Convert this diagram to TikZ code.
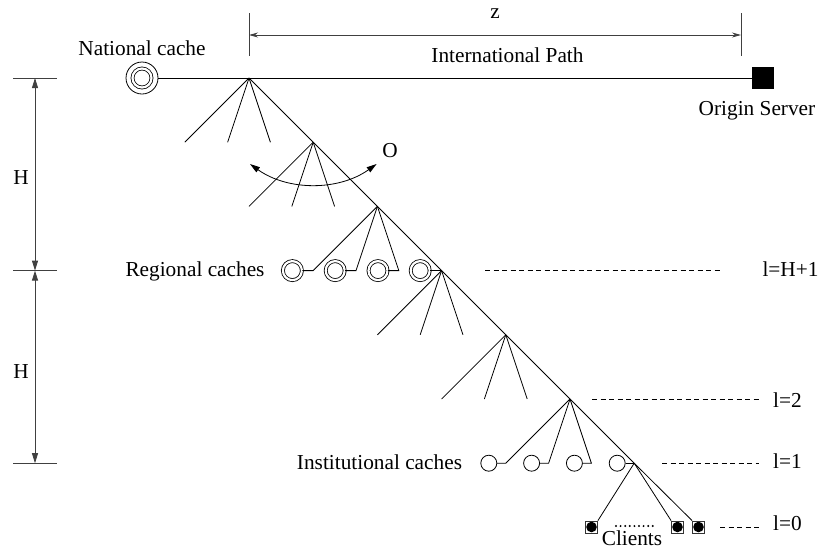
\documentclass[tikz,border=0pt]{standalone}
\usepackage{fontspec}
\setmainfont{Liberation Serif}
\usetikzlibrary{arrows.meta}
\begin{document}
\begin{tikzpicture}[x=1pt,y=-1pt,line width=0.8pt,
  lbl/.style={anchor=base,inner sep=0pt,font=\fontsize{21.3}{25}\selectfont},
  dimline/.style={draw=black!75,line width=0.8pt},
  dimarrow/.style={dimline,{Triangle[length=10pt,width=6pt]}-{Triangle[length=10pt,width=6pt]}},
  zarrow/.style={dimline,{Stealth[length=9pt,width=5pt]}-{Stealth[length=9pt,width=5pt]}},
  dashline/.style={draw,line width=0.7pt,dash pattern=on 5pt off 3.5pt},
  regcache/.style={circle,draw,double,double distance=2.2pt,line width=0.8pt,inner sep=0pt,minimum size=19pt},
  natouter/.style={circle,draw,inner sep=0pt,minimum size=32pt},
  instcache/.style={circle,draw,inner sep=0pt,minimum size=16pt},
  server/.style={rectangle,fill=black,inner sep=0pt,minimum size=22pt},
  client/.style={rectangle,draw=black!80,fill=white,line width=0.8pt,inner sep=0pt,minimum size=12pt,
    path picture={\fill[black] (path picture bounding box.center) circle[radius=5.3pt];}}
]
\useasboundingbox (0,0) rectangle (819,550);

% national cache and origin server
\node[natouter] (nat) at (142,78) {};
\node[regcache] (natin) at (142,78) {};
\node[server] (orig) at (763,78) {};
\draw (nat) -- (orig);

\node[lbl] (natlbl) at (142,55) {National cache};
\node[lbl] (origlbl) at (757,115) {Origin Server};

% z dimension
\coordinate (zt1) at (249,13);
\coordinate (zb1) at (249,56);
\coordinate (zt2) at (741,13);
\coordinate (zb2) at (741,56);
\draw[dimline] (zt1) -- (zb1);
\draw[dimline] (zt2) -- (zb2);
\coordinate (za1) at (249,35);
\coordinate (za2) at (741,35);
\draw[zarrow] (za1) -- (za2);
\node[lbl] (zlbl) at (495,18) {z};
\node[lbl] (iplbl) at (507.5,62) {International Path};

% H dimensions
\coordinate (hl0) at (13,78);   \coordinate (hr0) at (57,78);
\coordinate (hl1) at (13,270.6);\coordinate (hr1) at (57,270.6);
\coordinate (hl2) at (13,463.2);\coordinate (hr2) at (57,463.2);
\draw[dimline] (hl0) -- (hr0);
\draw[dimline] (hl1) -- (hr1);
\draw[dimline] (hl2) -- (hr2);
\coordinate (ha0) at (35,78);
\coordinate (ha1) at (35,270.6);
\coordinate (ha2) at (35,463.2);
\draw[dimarrow] (ha0) -- (ha1);
\draw[dimarrow] (ha1) -- (ha2);
\node[lbl] (h1lbl) at (21,184) {H};
\node[lbl] (h2lbl) at (21,378) {H};

% tree nodes on the diagonal
\coordinate (n0) at (249,78);
\coordinate (n1) at (313.2,142.2);
\coordinate (n2) at (377.4,206.4);
\coordinate (n3) at (441.6,270.6);
\coordinate (n4) at (505.8,334.8);
\coordinate (n5) at (570,399);
\coordinate (n6) at (634.2,463.2);

% plain fans
\foreach \i in {0,1,3,4}{
  \draw (n\i) -- ++(-64.2,64.2);
  \draw (n\i) -- ++(-21.4,64.2);
  \draw (n\i) -- ++(21.4,64.2);
}

% regional caches
\path (n2) ++(-64.2,64.2) coordinate (e21);
\path (n2) ++(-21.4,64.2) coordinate (e22);
\path (n2) ++(21.4,64.2) coordinate (e23);
\node[regcache] (r1) at (292.4,270.6) {};
\node[regcache] (r2) at (335.2,270.6) {};
\node[regcache] (r3) at (378,270.6) {};
\node[regcache] (r4) at (420.2,270.6) {};
\draw (r1.east) -- (e21) -- (n2);
\draw (r2.east) -- (e22) -- (n2);
\draw (r3.east) -- (e23) -- (n2);
\draw (r4.east) -- (n3);
\node[lbl] (reglbl) at (195,276) {Regional caches};

% institutional caches
\path (n5) ++(-64.2,64.2) coordinate (e51);
\path (n5) ++(-21.4,64.2) coordinate (e52);
\path (n5) ++(21.4,64.2) coordinate (e53);
\node[instcache] (i1) at (488.8,463.2) {};
\node[instcache] (i2) at (531.6,463.2) {};
\node[instcache] (i3) at (574.4,463.2) {};
\node[instcache] (i4) at (617.2,463.2) {};
\draw (i1.east) -- (e51) -- (n5);
\draw (i2.east) -- (e52) -- (n5);
\draw (i3.east) -- (e53) -- (n5);
\draw (i4.east) -- (n6);
\node[lbl] (instlbl) at (379.5,469) {Institutional caches};

% clients
\node[client] (c1) at (591.5,527) {};
\node[client] (c2) at (677.5,527) {};
\node[client] (c3) at (698.5,527) {};
\draw (n6) -- (c1.north east);
\draw (n6) -- (c2.north west);
\coordinate (cd1) at (616,526);
\coordinate (cd2) at (657,526);
\draw[line width=2.2pt,line cap=round,dash pattern=on 0pt off 4.6pt] (cd1) -- (cd2);
\node[lbl] (clbl) at (632,545.5) {Clients};

% main diagonal
\draw (n0) -- (n1) -- (n2) -- (n3) -- (n4) -- (n5) -- (n6) -- (c3.north west);

% degree arc
\coordinate (arcs) at (250,164);
\draw[{Triangle[length=10pt,width=6pt]}-{Triangle[length=10pt,width=6pt]}] (arcs) arc[start angle=125.5,end angle=54.5,radius=109];
\node[lbl] (olbl) at (390,157) {O};

% level lines
\coordinate (d1a) at (485,270.6); \coordinate (d1b) at (720,270.6);
\coordinate (d2a) at (592,399);   \coordinate (d2b) at (759,399);
\coordinate (d3a) at (662,463.2); \coordinate (d3b) at (759,463.2);
\coordinate (d4a) at (720,527);   \coordinate (d4b) at (759,527);
\draw[dashline] (d1a) -- (d1b);
\draw[dashline] (d2a) -- (d2b);
\draw[dashline] (d3a) -- (d3b);
\draw[dashline] (d4a) -- (d4b);
\node[lbl] (l3) at (790.5,276) {l=H+1};
\node[lbl] (l2) at (787.5,407) {l=2};
\node[lbl] (l1) at (787.5,468) {l=1};
\node[lbl] (l0) at (787.5,530) {l=0};
\end{tikzpicture}
\end{document}
